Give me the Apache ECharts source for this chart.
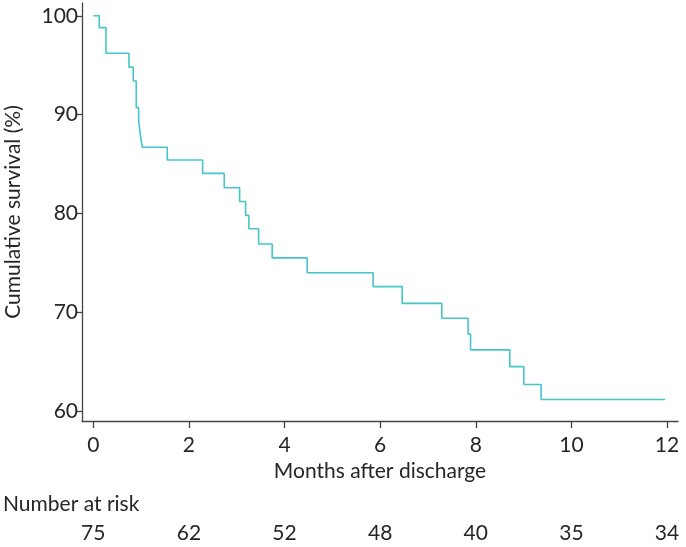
<!DOCTYPE html>
<html>
<head>
<meta charset="utf-8">
<script src="https://cdn.jsdelivr.net/npm/echarts@6/dist/echarts.min.js"></script>
<style>
html,body{margin:0;padding:0;background:#fff;}
#chart{width:686px;height:547px;}
</style>
</head>
<body>
<div id="chart"></div>
<script>
// Kaplan-Meier step points: months after discharge and cumulative survival (%)
var months = [0, 0.125, 0.266, 0.746, 0.836, 0.899, 0.949, 0.983, 1.024, 1.547, 2.287, 2.739, 3.061, 3.186, 3.255, 3.458, 3.742, 4.474, 5.854, 6.46, 7.29, 7.84, 7.891, 8.712, 9.005, 9.367, 11.96];
var survival = [100, 98.8, 96.2, 94.8, 93.4, 90.7, 89.4, 88.0, 86.7, 85.4, 84.05, 82.6, 81.2, 79.8, 78.45, 76.9, 75.5, 74.0, 72.6, 70.9, 69.4, 67.8, 66.2, 64.5, 62.7, 61.17, 61.17];
var xTicks = [0, 2, 4, 6, 8, 10, 12];
var yTicks = [60, 70, 80, 90, 100];
var atRisk = [75, 62, 52, 48, 40, 35, 34];

var FONT = 'Lato';
var TXT = '#262626';
var AX = '#444444';
var FS = 21;

var chart = echarts.init(document.getElementById('chart'), null, {renderer: 'canvas'});
var data = months.map(function (m, i) { return [m, survival[i]]; });

chart.setOption({
  animation: false,
  backgroundColor: '#ffffff',
  grid: {left: 82, top: 3, right: 8, bottom: 126, containLabel: false, outerBoundsMode: 'none'},
  xAxis: [{
    type: 'value', min: -0.236, max: 12.23,
    name: 'Months after discharge', nameLocation: 'middle', nameGap: 40,
    nameTextStyle: {fontFamily: FONT, fontSize: FS, color: TXT},
    axisLine: {show: true, onZero: false, lineStyle: {color: AX, width: 1.3}},
    axisTick: {show: true, length: 7, inside: false, customValues: xTicks, lineStyle: {color: AX, width: 1.3}},
    axisLabel: {show: true, customValues: xTicks, margin: 13.5, fontFamily: FONT, fontSize: FS, color: TXT},
    splitLine: {show: false}
  }, {
    type: 'value', min: -0.236, max: 12.23, position: 'bottom', offset: 88, gridIndex: 0,
    axisLine: {show: false}, axisTick: {show: false},
    axisLabel: {show: true, customValues: xTicks, margin: 13.5, fontFamily: FONT, fontSize: FS, color: TXT,
      formatter: function (v) { var i = xTicks.indexOf(v); return i >= 0 ? String(atRisk[i]) : ''; }},
    splitLine: {show: false}
  }],
  yAxis: {
    type: 'value', min: 59.0, max: 101.29,
    name: 'Cumulative survival (%)', nameLocation: 'middle', nameGap: 58, nameRotate: 90,
    nameTextStyle: {fontFamily: FONT, fontSize: FS, color: TXT},
    axisLine: {show: true, onZero: false, lineStyle: {color: AX, width: 1.3}},
    axisTick: {show: true, length: 6, inside: false, customValues: yTicks, lineStyle: {color: AX, width: 1.3}},
    axisLabel: {show: true, customValues: yTicks, margin: 4, fontFamily: FONT, fontSize: FS, color: TXT},
    splitLine: {show: false}
  },
  graphic: [{
    type: 'text', left: 3, top: 494,
    style: {text: 'Number at risk', fontFamily: FONT, fontSize: FS, fill: TXT}
  }],
  series: [{
    type: 'line', xAxisIndex: 0, data: data, step: 'end', showSymbol: false, symbol: 'none',
    lineStyle: {color: '#45c6cb', width: 1.6}, clip: false
  }]
});
</script>
</body>
</html>
